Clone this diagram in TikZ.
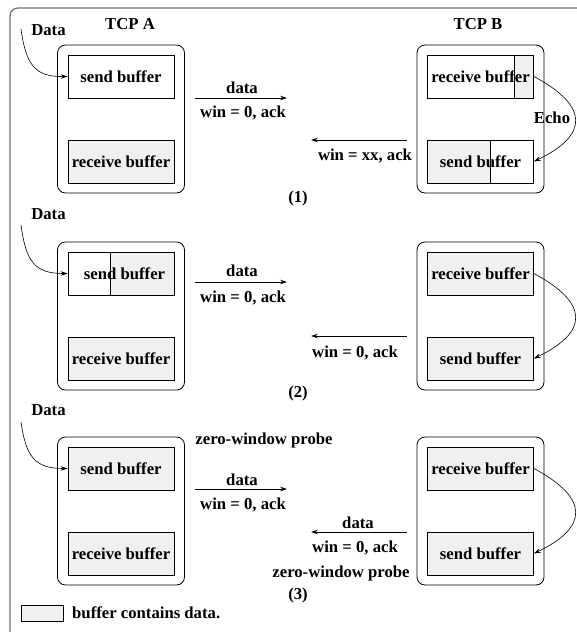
\documentclass[tikz,border=0pt]{standalone}
\usepackage{fontspec}
\setmainfont{Liberation Serif}
\usetikzlibrary{arrows.meta,backgrounds}
\definecolor{fillgray}{gray}{0.94}
\begin{document}
\begin{tikzpicture}[x=1pt,y=-1pt,
  font=\fontsize{16.7}{20}\selectfont\bfseries,
  buf/.style={draw, line width=0.8pt, minimum width=106pt, minimum height=43pt, inner sep=0pt},
  full/.style={buf, fill=fillgray},
  host/.style={draw, line width=0.8pt, rounded corners=8pt, minimum width=127pt, minimum height=148pt, inner sep=0pt},
  txt/.style={inner sep=0pt},
  arr/.style={line width=0.7pt, -{Stealth[length=7pt,width=4.5pt,inset=2.5pt]}},
  conn/.style={line width=0.6pt, -{Stealth[length=7pt,width=4.5pt,inset=2.5pt]}},
  frame/.style={draw=black!55, line width=1.3pt, rounded corners=8pt}]
\useasboundingbox (0,0) rectangle (576,632);
\draw[frame] (10,8) rectangle (592,646);

% ---------------- Panel 1 ----------------
\node[host] (hA1) at (121,119) {};
\node[host] (hB1) at (480.5,119) {};
\node[buf]  (sA1) at (121,76.5) {send buffer};
\node[full] (rA1) at (121,161.5) {receive buffer};
\node[buf]  (rB1) at (480.5,76.5) {receive buffer};
\node[buf]  (sB1) at (480.5,161.5) {send buffer};
\begin{scope}[on background layer]
  \fill[fillgray] ([xshift=-20pt]rB1.north east) rectangle (rB1.south east);
  \fill[fillgray] (sB1.north west) rectangle ([xshift=63pt]sB1.south west);
\end{scope}
\draw[line width=0.8pt] ([xshift=-20pt]rB1.north east) -- ([xshift=-20pt]rB1.south east);
\draw[line width=0.8pt] ([xshift=63pt]sB1.north west) -- ([xshift=63pt]sB1.south west);
\node[txt] (tA) at (130,24) {TCP A};
\node[txt] (tB) at (478,24) {TCP B};
\node[txt] (d1) at (48.5,30) {Data};
\coordinate (d1s) at (21,29);
\draw[conn] (d1s) .. controls (26,65) and (35,77) .. (sA1.west);
\coordinate (f1a) at (195,98);
\coordinate (f1b) at (287,98);
\draw[arr] (f1a) -- (f1b);
\node[txt] (f1t) at (242,88) {data};
\node[txt] (f1u) at (243,113) {win = 0, ack};
\coordinate (b1a) at (407,140);
\coordinate (b1b) at (311,140);
\draw[arr] (b1a) -- (b1b);
\node[txt] (b1t) at (365,156) {win = xx, ack};
\draw[conn] (rB1.east) .. controls (589,106) and (589,135) .. (sB1.east);
\node[txt] (echo) at (552,118) {Echo};
\node[txt] (p1) at (298,198) {(1)};

% ---------------- Panel 2 ----------------
\node[host] (hA2) at (121,316) {};
\node[host] (hB2) at (480.5,316) {};
\node[buf]  (sA2) at (121,273.5) {};
\node[full] (rA2) at (121,358.5) {receive buffer};
\node[full] (rB2) at (480.5,273.5) {receive buffer};
\node[full] (sB2) at (480.5,358.5) {send buffer};
\begin{scope}[on background layer]
  \fill[fillgray] ([xshift=-64pt]sA2.north east) rectangle (sA2.south east);
\end{scope}
\draw[line width=0.8pt] ([xshift=-64pt]sA2.north east) -- ([xshift=-64pt]sA2.south east);
\node[txt] (sA2t) at (124.5,273.5) {send buffer};
\node[txt] (d2) at (48.5,214) {Data};
\coordinate (d2s) at (21,225);
\draw[conn] (d2s) .. controls (26,262) and (35,273.5) .. (sA2.west);
\coordinate (f2a) at (195,282);
\coordinate (f2b) at (287,282);
\draw[arr] (f2a) -- (f2b);
\node[txt] (f2t) at (242,271) {data};
\node[txt] (f2u) at (243,298) {win = 0, ack};
\coordinate (b2a) at (407,336);
\coordinate (b2b) at (311,336);
\draw[arr] (b2a) -- (b2b);
\node[txt] (b2t) at (355,353) {win = 0, ack};
\draw[conn] (rB2.east) .. controls (589,303) and (589,332) .. (sB2.east);
\node[txt] (p2) at (298,393) {(2)};

% ---------------- Panel 3 ----------------
\node[host] (hA3) at (121,511) {};
\node[host] (hB3) at (480.5,511) {};
\node[full] (sA3) at (121,468.5) {send buffer};
\node[full] (rA3) at (121,553.5) {receive buffer};
\node[full] (rB3) at (480.5,468.5) {receive buffer};
\node[full] (sB3) at (480.5,553.5) {send buffer};
\node[txt] (d3) at (48.5,410) {Data};
\coordinate (d3s) at (21,422);
\draw[conn] (d3s) .. controls (26,457) and (35,468.5) .. (sA3.west);
\node[txt] (z1) at (264,440) {zero-window probe};
\coordinate (f3a) at (195,489);
\coordinate (f3b) at (287,489);
\draw[arr] (f3a) -- (f3b);
\node[txt] (f3t) at (242,480) {data};
\node[txt] (f3u) at (243,505) {win = 0, ack};
\coordinate (b3a) at (407,532);
\coordinate (b3b) at (311,532);
\draw[arr] (b3a) -- (b3b);
\node[txt] (b3t) at (358,523) {data};
\node[txt] (b3u) at (355,548) {win = 0, ack};
\node[txt] (z2) at (341,573) {zero-window probe};
\draw[conn] (rB3.east) .. controls (589,498) and (589,527) .. (sB3.east);
\node[txt] (p3) at (298,595) {(3)};

% ---------------- Legend ----------------
\node[draw, line width=0.8pt, fill=fillgray, minimum width=42pt, minimum height=16pt, inner sep=0pt] (leg) at (42,613) {};
\node[txt, anchor=west] (legt) at (72,613) {buffer contains data.};
\end{tikzpicture}
\end{document}
